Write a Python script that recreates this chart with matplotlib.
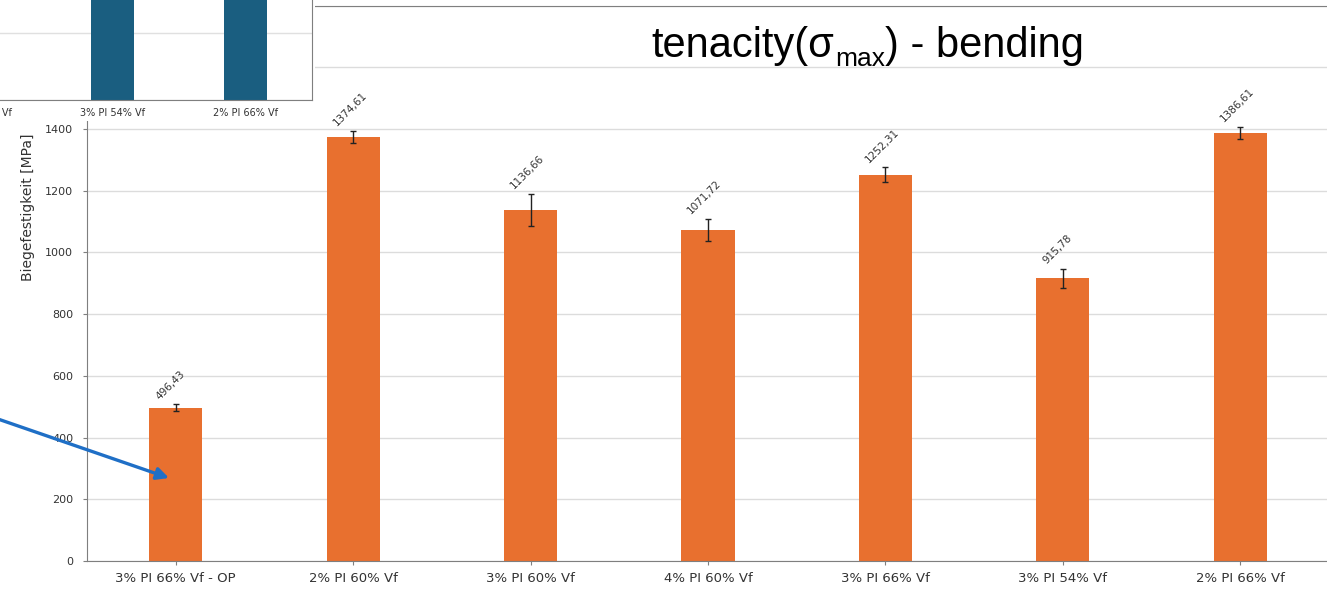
import numpy as np
import matplotlib.pyplot as plt
from matplotlib.patches import Rectangle

# Bending strength (Biegefestigkeit) per sample, values as printed on the bars
categories = ["3% PI 66% Vf - OP", "2% PI 60% Vf", "3% PI 60% Vf", "4% PI 60% Vf",
              "3% PI 66% Vf", "3% PI 54% Vf", "2% PI 66% Vf"]
strength = [496.43, 1374.61, 1136.66, 1071.72, 1252.31, 915.78, 1386.61]
strength_err = [11, 20, 52, 36, 23, 30, 20]

# Inset (cut-off chart in the corner), only the last bars are visible
inset_categories = categories
inset_values = [45, 48, 44, 42, 46, 40, 43]

orange = "#E8702F"
blue = "#1A5E80"
grey = "#7f7f7f"
txt = "#333333"

W, H = 1327, 590
fig = plt.figure(figsize=(W / 100, H / 100), dpi=100)

# main chart
ax = fig.add_axes([87 / W, 29 / H, 1242 / W, 555.5 / H], zorder=0)
x = np.arange(len(categories))
ax.bar(x, strength, width=0.30, color=orange, zorder=2)
ax.errorbar(x, strength, yerr=strength_err, fmt='none', ecolor='#222222',
            elinewidth=1, capsize=2.5, capthick=1, zorder=3)
for xi, v, e in zip(x, strength, strength_err):
    ax.annotate(f"{v:.2f}".replace('.', ','), (xi, v + e), xytext=(-15, 3),
                textcoords='offset pixels', rotation=45, rotation_mode='anchor',
                ha='left', va='bottom', fontsize=7.5, color=txt)

ax.set_xlim(-0.5, 6.5)
ax.set_ylim(0, 1800)
ax.set_yticks(range(0, 1801, 200))
ax.set_xticks(x)
ax.set_xticklabels(categories, fontsize=9.5, color=txt)
ax.tick_params(axis='y', labelsize=8, labelcolor=txt, length=3, color=grey, pad=7)
ax.tick_params(axis='x', length=3, color=grey, pad=5)
ax.set_ylabel("Biegefestigkeit [MPa]", fontsize=10, color=txt)
ax.yaxis.set_label_coords(-0.042, 0.637)
ax.grid(axis='y', color='#dcdcdc', linewidth=1, zorder=0)
ax.set_axisbelow(True)
for s in ax.spines.values():
    s.set_color(grey)
ax.spines['right'].set_visible(False)

# title with a real subscript, built from three pieces
t1 = fig.text(651 / W, 1 - 57 / H, "tenacity(σ", ha='left', va='baseline',
              fontsize=30, family='Liberation Sans')
t2 = plt.Annotation("max", xy=(1, 0), xycoords=t1, xytext=(1, -5),
                    textcoords='offset pixels', ha='left', va='bottom',
                    fontsize=19, family='Liberation Sans')
fig.add_artist(t2)
t3 = plt.Annotation(") - bending", xy=(1, 0), xycoords=(t2, t1), xytext=(0, 0),
                    textcoords='offset pixels', ha='left', va='bottom',
                    fontsize=30, family='Liberation Sans')
fig.add_artist(t3)

# white patch + cut-off inset chart in the top left corner
fig.add_artist(Rectangle((0, 1 - 121 / H), 315 / W, 121 / H, transform=fig.transFigure,
                         facecolor='white', edgecolor='none', zorder=1))
iax = fig.add_axes([-620 / W, 1 - 100 / H, 932 / W, 160 / H], zorder=2)
ix = np.arange(len(inset_categories))
iax.bar(ix, inset_values, width=0.32, color=blue, zorder=2)
iax.set_xlim(-0.5, 6.5)
iax.set_ylim(0, 48)
iax.set_yticks([0, 20, 40])
iax.set_yticklabels([])
iax.tick_params(axis='y', length=0)
iax.set_xticks(ix)
iax.set_xticklabels(inset_categories, fontsize=7, color=txt)
iax.tick_params(axis='x', length=0, pad=6)
iax.grid(axis='y', color='#e0e0e0', linewidth=1, zorder=0)
iax.set_axisbelow(True)
iax.spines['top'].set_visible(False)
iax.spines['left'].set_visible(False)
iax.spines['right'].set_color(grey)
iax.spines['bottom'].set_color(grey)

# blue arrow pointing at the first bar
fig.add_artist(plt.Annotation("", xy=(169 / W, 1 - 478 / H), xytext=(-5 / W, 1 - 418 / H),
                              xycoords=fig.transFigure, textcoords=fig.transFigure,
                              arrowprops=dict(arrowstyle='-|>', color='#1F6FC6', lw=2.4,
                                              mutation_scale=18, shrinkA=0, shrinkB=0),
                              zorder=5))

fig.savefig("out.png", dpi=100)
